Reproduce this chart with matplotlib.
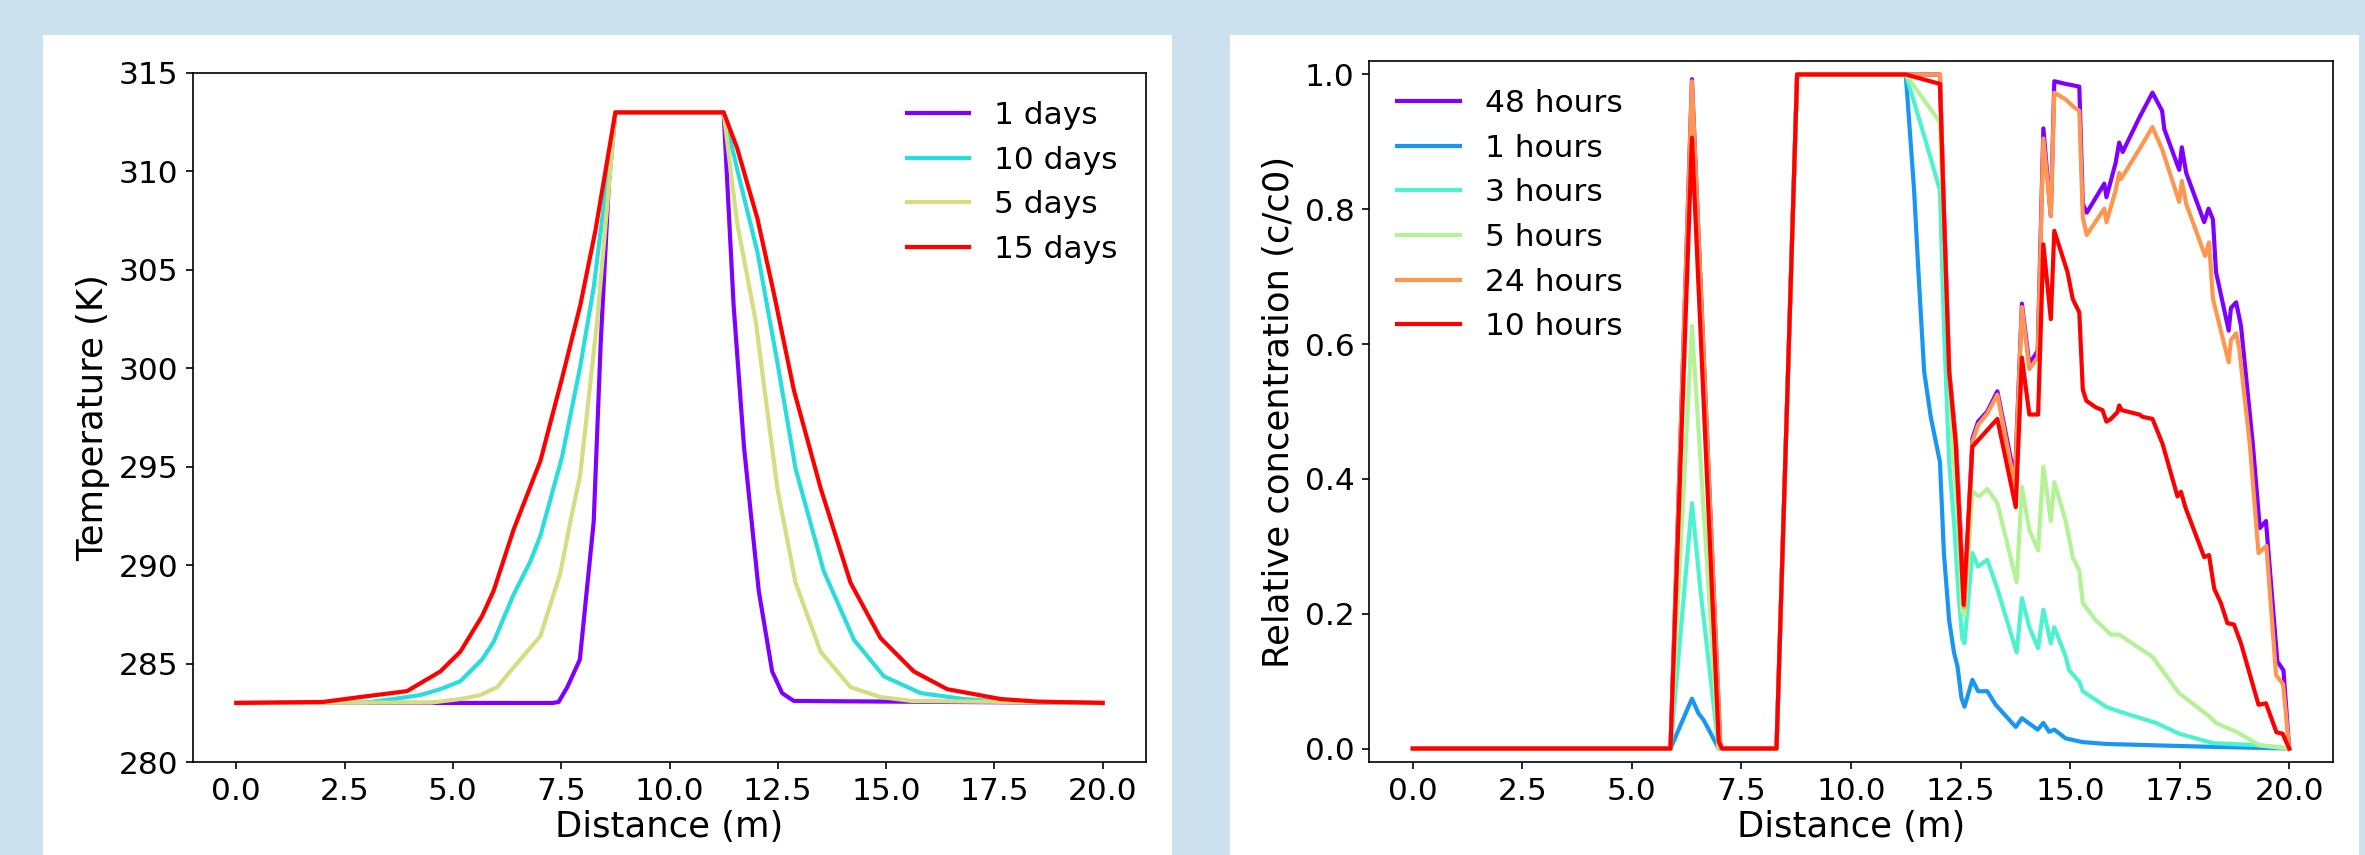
import numpy as np
import matplotlib
matplotlib.use('Agg')
import matplotlib.pyplot as plt
from matplotlib.patches import Rectangle

plt.rcParams['font.size'] = 15
plt.rcParams['axes.labelsize'] = 17
plt.rcParams['lines.linewidth'] = 2

# left panel: temperature profiles
d1_x = [0, 7.3, 7.44, 7.64, 7.93, 8.25, 8.41, 8.60, 8.75, 11.25, 11.48, 11.72, 12.06, 12.37, 12.60, 12.87, 20]
d1_T = [283, 283, 283.05, 283.8, 285.2, 292.2, 301.2, 309.4, 313, 313, 303.2, 296.0, 288.7, 284.6, 283.5, 283.1, 283]
d10_x = [0, 3.0, 3.63, 4.25, 4.71, 5.17, 5.67, 5.94, 6.40, 6.79, 7.02, 7.52, 7.94, 8.25, 8.75,
         11.25, 11.64, 12.03, 12.49, 12.91, 13.56, 14.26, 14.95, 15.80, 16.79, 17.8, 20]
d10_T = [283, 283.02, 283.2, 283.4, 283.7, 284.1, 285.2, 286.1, 288.5, 290.2, 291.5, 295.5, 300.1, 304.1, 313,
         313, 309.4, 305.9, 300.3, 294.9, 289.7, 286.2, 284.35, 283.5, 283.2, 283.05, 283]
d5_x = [0, 4.5, 5.17, 5.63, 6.02, 6.40, 7.02, 7.48, 7.71, 7.94, 8.33, 8.75,
        11.25, 11.56, 11.99, 12.49, 12.91, 13.49, 14.18, 14.87, 15.6, 20]
d5_T = [283, 283.02, 283.2, 283.4, 283.8, 284.8, 286.4, 289.6, 292.2, 294.6, 302.4, 313,
        313, 307.4, 302.4, 293.9, 289.1, 285.6, 283.8, 283.3, 283.1, 283]
d15_x = [0, 2.0, 2.86, 3.94, 4.71, 5.17, 5.67, 5.94, 6.40, 7.02, 7.52, 7.94, 8.29, 8.75,
         11.25, 11.56, 12.03, 12.41, 12.87, 13.49, 14.18, 14.87, 15.64, 16.41, 17.64, 18.5, 20]
d15_T = [283, 283.05, 283.3, 283.6, 284.6, 285.6, 287.4, 288.7, 291.8, 295.3, 299.5, 303.2, 307.0, 313,
         313, 311.2, 307.6, 303.8, 298.9, 293.9, 289.1, 286.3, 284.6, 283.7, 283.2, 283.07, 283]
day_labels = ['1 days', '10 days', '5 days', '15 days']

# right panel: relative concentration
h48_x = [0, 5.88, 6.37, 7.02, 8.30, 8.77, 12.03, 12.12, 12.24, 12.39, 12.59, 12.77, 12.90, 13.11, 13.34, 13.74,
         13.90, 14.07, 14.26, 14.39, 14.56, 14.64, 14.90, 15.06, 15.21, 15.29, 15.38, 15.78, 15.83, 16.04, 16.12,
         16.20, 16.58, 16.88, 17.10, 17.15, 17.49, 17.55, 17.65, 18.06, 18.16, 18.26, 18.33, 18.62, 18.67, 18.79,
         18.90, 19.17, 19.33, 19.47, 19.73, 19.87, 20.0]
h48_c = [0, 0, 0.993, 0, 0, 1.0, 1.0, 0.80, 0.56, 0.46, 0.21, 0.46, 0.485, 0.50, 0.53, 0.40,
         0.66, 0.57, 0.59, 0.92, 0.79, 0.99, 0.986, 0.984, 0.982, 0.808, 0.795, 0.838, 0.818, 0.869, 0.899,
         0.885, 0.936, 0.973, 0.946, 0.919, 0.8585, 0.892, 0.854, 0.781, 0.801, 0.785, 0.707, 0.620, 0.6535, 0.662,
         0.627, 0.452, 0.327, 0.3375, 0.129, 0.116, 0.0]
h1_x = [0, 5.88, 6.37, 6.52, 6.64, 6.98, 8.30, 8.77, 11.25, 11.44, 11.55, 11.67, 11.82, 12.03, 12.12, 12.24,
        12.35, 12.43, 12.52, 12.59, 12.77, 12.90, 13.11, 13.30, 13.76, 13.90, 14.26, 14.39, 14.52, 14.64, 14.90,
        15.29, 15.82, 16.96, 18.10, 20.0]
h1_c = [0, 0, 0.074, 0.052, 0.042, 0, 0, 1.0, 1.0, 0.828, 0.694, 0.559, 0.492, 0.425, 0.29, 0.19,
        0.1425, 0.122, 0.075, 0.062, 0.102, 0.085, 0.085, 0.065, 0.032, 0.045, 0.028, 0.038, 0.025, 0.028, 0.015,
        0.0095, 0.0068, 0.0047, 0.0027, 0.0]
h3_x = [0, 5.88, 6.37, 6.56, 6.98, 8.30, 8.77, 11.25, 11.67, 12.03, 12.12, 12.24, 12.35, 12.46, 12.54, 12.59,
        12.77, 12.90, 13.11, 13.34, 13.78, 13.90, 14.07, 14.27, 14.39, 14.56, 14.64, 14.90, 14.98, 15.21, 15.29,
        15.82, 16.12, 16.96, 17.49, 18.26, 19.25, 20.0]
h3_c = [0, 0, 0.364, 0.237, 0, 0, 1.0, 1.0, 0.909, 0.828, 0.627, 0.425, 0.3375, 0.223, 0.163, 0.156,
        0.29, 0.27, 0.28, 0.237, 0.1425, 0.223, 0.18, 0.149, 0.206, 0.156, 0.18, 0.136, 0.116, 0.099, 0.085,
        0.062, 0.055, 0.038, 0.022, 0.008, 0.005, 0.0]
h5_x = [0, 5.88, 6.37, 6.98, 8.30, 8.77, 11.25, 12.03, 12.12, 12.31, 12.43, 12.54, 12.59, 12.77, 12.92, 13.11,
        13.34, 13.78, 13.90, 14.07, 14.27, 14.39, 14.56, 14.64, 14.90, 15.06, 15.21, 15.29, 15.59, 15.82, 15.93,
        16.12, 16.88, 17.49, 18.17, 18.33, 18.79, 19.32, 20.0]
h5_c = [0, 0, 0.627, 0, 0, 1.0, 1.0, 0.929, 0.761, 0.4585, 0.358, 0.203, 0.197, 0.381, 0.374, 0.385,
        0.364, 0.247, 0.388, 0.324, 0.294, 0.418, 0.3375, 0.395, 0.3375, 0.284, 0.264, 0.216, 0.19, 0.176, 0.169,
        0.169, 0.136, 0.082, 0.048, 0.038, 0.025, 0.005, 0.0]
h24_x = [0, 5.88, 6.37, 7.02, 8.30, 8.77, 12.03, 12.12, 12.24, 12.39, 12.59, 12.77, 12.90, 13.11, 13.34, 13.74,
         13.90, 14.07, 14.26, 14.39, 14.56, 14.64, 14.90, 15.06, 15.21, 15.29, 15.38, 15.78, 15.83, 16.04, 16.12,
         16.16, 16.58, 16.88, 17.10, 17.15, 17.49, 17.55, 17.65, 18.08, 18.17, 18.26, 18.62, 18.67, 18.79, 18.86,
         19.10, 19.30, 19.48, 19.70, 19.86, 20.0]
h24_c = [0, 0, 0.99, 0, 0, 1.0, 1.0, 0.80, 0.56, 0.46, 0.21, 0.455, 0.48, 0.497, 0.525, 0.39,
         0.655, 0.563, 0.58, 0.905, 0.79, 0.973, 0.963, 0.953, 0.946, 0.788, 0.762, 0.801, 0.781, 0.828, 0.854,
         0.845, 0.889, 0.922, 0.889, 0.879, 0.811, 0.842, 0.808, 0.731, 0.751, 0.667, 0.573, 0.606, 0.616, 0.593,
         0.452, 0.290, 0.3005, 0.109, 0.0955, 0.0]
h10_x = [0, 5.88, 6.37, 6.98, 7.06, 8.30, 8.77, 11.25, 12.03, 12.12, 12.24, 12.39, 12.57, 12.77, 13.34, 13.76,
         13.90, 14.07, 14.27, 14.39, 14.56, 14.64, 14.94, 15.06, 15.21, 15.29, 15.37, 15.59, 15.74, 15.83, 15.93,
         16.08, 16.12, 16.18, 16.58, 16.66, 16.88, 17.11, 17.45, 17.53, 17.63, 18.06, 18.17, 18.29, 18.44, 18.59,
         18.74, 18.90, 19.30, 19.47, 19.71, 19.85, 20.0]
h10_c = [0, 0, 0.906, 0.01, 0, 0, 1.0, 1.0, 0.986, 0.795, 0.559, 0.452, 0.213, 0.448, 0.489, 0.358,
         0.58, 0.4955, 0.4955, 0.748, 0.637, 0.768, 0.707, 0.667, 0.647, 0.5325, 0.516, 0.506, 0.502, 0.485, 0.489,
         0.499, 0.509, 0.502, 0.4955, 0.492, 0.489, 0.452, 0.374, 0.381, 0.358, 0.284, 0.287, 0.237, 0.216, 0.186,
         0.184, 0.156, 0.065, 0.067, 0.024, 0.022, 0.0]
hour_labels = ['48 hours', '1 hours', '3 hours', '5 hours', '24 hours', '10 hours']

W, H = 2365, 855
fig = plt.figure(figsize=(W / 150, H / 150), dpi=150, facecolor='#cde0ee')
# white cards behind each plot
fig.patches.append(Rectangle((43 / W, 0), 1129 / W, 820 / H, transform=fig.transFigure,
                             facecolor='white', edgecolor='none', zorder=-10))
fig.patches.append(Rectangle((1230 / W, 0), 1129 / W, 820 / H, transform=fig.transFigure,
                             facecolor='white', edgecolor='none', zorder=-10))

ax1 = fig.add_axes([193 / W, 93 / H, 953 / W, 689 / H])
cols = plt.cm.rainbow(np.linspace(0, 1, 4))
for (x, y), lab, c in zip([(d1_x, d1_T), (d10_x, d10_T), (d5_x, d5_T), (d15_x, d15_T)], day_labels, cols):
    ax1.plot(x, y, color=c, label=lab)
ax1.set_ylim(280, 315)
ax1.set_xlabel('Distance (m)', labelpad=2)
ax1.set_ylabel('Temperature (K)')
ax1.legend(loc='upper right', frameon=False)

ax2 = fig.add_axes([1369 / W, 93 / H, 964 / W, 701 / H])
cols = plt.cm.rainbow(np.linspace(0, 1, 6))
series = [(h48_x, h48_c), (h1_x, h1_c), (h3_x, h3_c), (h5_x, h5_c), (h24_x, h24_c), (h10_x, h10_c)]
for (x, y), lab, c in zip(series, hour_labels, cols):
    ax2.plot(x, y, color=c, label=lab)
ax2.set_ylim(-0.02, 1.02)
ax2.set_xlabel('Distance (m)', labelpad=2)
ax2.set_ylabel('Relative concentration (c/c0)')
ax2.legend(loc='upper left', frameon=False)

fig.savefig('out.png', dpi=150, facecolor=fig.get_facecolor())
